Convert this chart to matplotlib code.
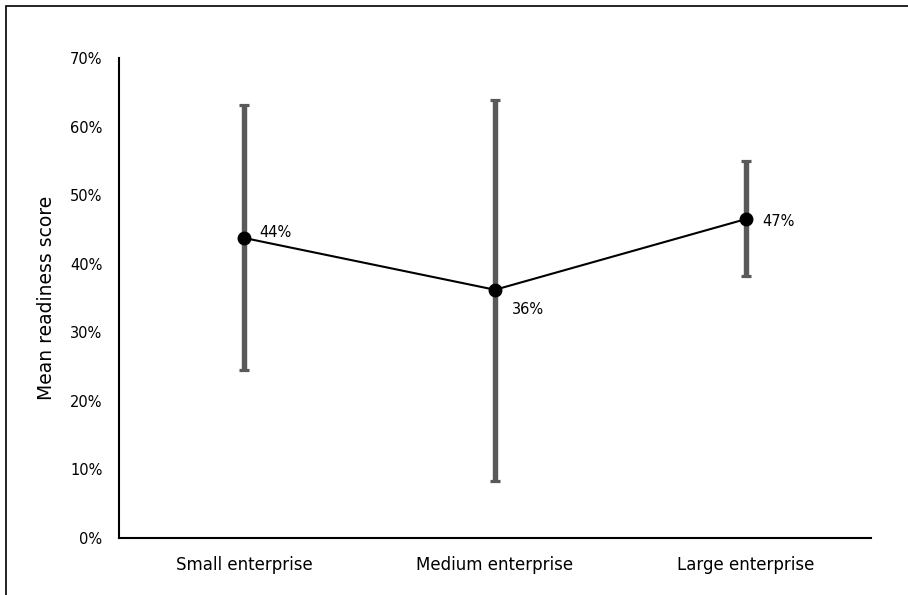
import matplotlib
matplotlib.use("Agg")
import matplotlib.pyplot as plt
from matplotlib.patches import Rectangle
from matplotlib.ticker import PercentFormatter

categories = ["Small enterprise", "Medium enterprise", "Large enterprise"]
mean_score = [0.4375, 0.362, 0.465]
upper = [0.631, 0.639, 0.550]
lower = [0.245, 0.083, 0.382]
labels = ["44%", "36%", "47%"]
yticks = [0.0, 0.1, 0.2, 0.3, 0.4, 0.5, 0.6, 0.7]

plt.rcParams["font.family"] = ["DejaVu Sans"]

W, H = 908, 595
fig = plt.figure(figsize=(W / 100, H / 100), dpi=100)

# Outer frame
fig.patches.append(Rectangle((6 / W, -0.1), 1.2, 1 - 6 / H + 0.1, transform=fig.transFigure,
                             fill=False, edgecolor="#000000", linewidth=1.2))

ax = fig.add_axes([119 / W, 1 - 538 / H, (871 - 119) / W, (538 - 58) / H])

x = list(range(len(categories)))
err_lo = [m - lo for m, lo in zip(mean_score, lower)]
err_hi = [hi - m for m, hi in zip(mean_score, upper)]

ax.errorbar(x, mean_score, yerr=[err_lo, err_hi], fmt="none", ecolor="#595959",
            elinewidth=3.9, capsize=3.7, capthick=2.3, zorder=2)
ax.plot(x, mean_score, color="black", linewidth=1.5, marker="o", markersize=9, zorder=3)

offsets = [(11, 4), (12, -14), (12, -2)]
for xi, yi, lab, off in zip(x, mean_score, labels, offsets):
    ax.annotate(lab, (xi, yi), xytext=off, textcoords="offset points",
                ha="left", va="center", fontsize=10.5)

ax.set_xlim(-0.5, 2.5)
ax.set_ylim(0, 0.7)
ax.set_yticks(yticks)
ax.yaxis.set_major_formatter(PercentFormatter(1.0, decimals=0))
ax.set_xticks(x)
ax.set_xticklabels(categories)
ax.tick_params(axis="both", length=0, colors="black")
ax.tick_params(axis="y", pad=12, labelsize=10.5)
ax.tick_params(axis="x", pad=13, labelsize=12)

for s in ["top", "right"]:
    ax.spines[s].set_visible(False)
for s in ["left", "bottom"]:
    ax.spines[s].set_linewidth(1.5)
    ax.spines[s].set_color("black")

ax.set_ylabel("Mean readiness score", fontsize=13.5, labelpad=10)

fig.savefig("out.png", dpi=100)
